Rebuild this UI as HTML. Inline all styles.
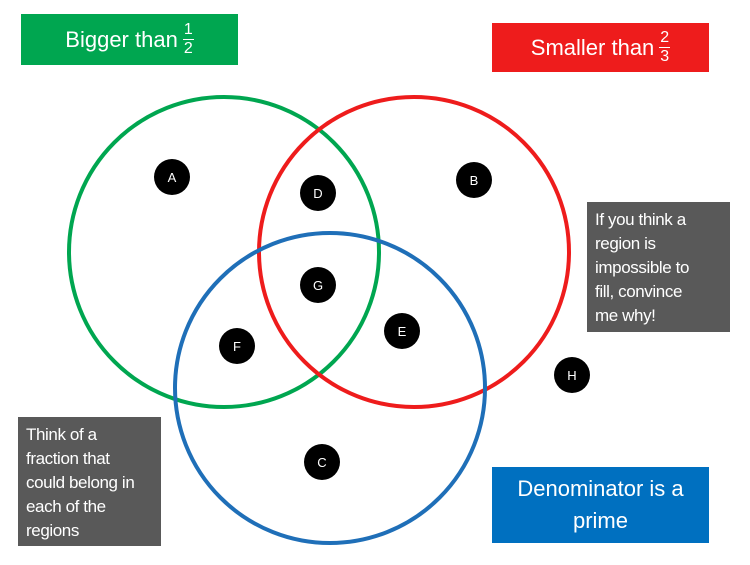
<!DOCTYPE html>
<html><head><meta charset="utf-8"><style>
body{margin:0;width:750px;height:565px;background:#fff;overflow:hidden;font-family:"Liberation Sans",sans-serif}
.box{position:absolute;color:#fff;box-sizing:border-box}
.frac{display:inline-flex;flex-direction:column;align-items:center;font-size:16px;line-height:18px;vertical-align:middle;margin-left:5px}
.frac span:first-child{border-bottom:1.5px solid #fff;padding:0 1px}
.g{background:#595959;font-size:17px;line-height:24px;padding:6px 8px;white-space:nowrap;letter-spacing:-0.4px}
</style></head><body>
<svg width="750" height="565" style="position:absolute;left:0;top:0">
<circle cx="224" cy="252" r="155" fill="none" stroke="#00a650" stroke-width="4"/>
<circle cx="414" cy="252" r="155" fill="none" stroke="#ee1c1c" stroke-width="4"/>
<circle cx="330" cy="388" r="155" fill="none" stroke="#1f6fb8" stroke-width="4"/>
<g fill="#000"><circle cx="172" cy="177" r="18"/><circle cx="474" cy="180" r="18"/><circle cx="318" cy="193" r="18"/><circle cx="318" cy="285" r="18"/><circle cx="402" cy="331" r="18"/><circle cx="237" cy="346" r="18"/><circle cx="572" cy="375" r="18"/><circle cx="322" cy="462" r="18"/></g>
<g fill="#fff" font-family="Liberation Sans" font-size="13" text-anchor="middle"><text x="172" y="182">A</text><text x="474" y="185">B</text><text x="318" y="198">D</text><text x="318" y="290">G</text><text x="402" y="336">E</text><text x="237" y="351">F</text><text x="572" y="380">H</text><text x="322" y="467">C</text></g>
</svg>
<div class="box" style="left:21px;top:14px;width:217px;height:51px;background:#00a650;font-size:22px;display:flex;align-items:center;justify-content:center">Bigger than<span class="frac"><span>1</span><span>2</span></span></div>
<div class="box" style="left:492px;top:23px;width:217px;height:49px;background:#ee1c1c;font-size:22px;display:flex;align-items:center;justify-content:center">Smaller than<span class="frac"><span>2</span><span>3</span></span></div>
<div class="box g" style="left:587px;top:202px;width:143px;height:130px">If you think a<br>region is<br>impossible to<br>fill, convince<br>me why!</div>
<div class="box g" style="left:18px;top:417px;width:143px;height:129px">Think of a<br>fraction that<br>could belong in<br>each of the<br>regions</div>
<div class="box" style="left:492px;top:467px;width:217px;height:76px;background:#0070c0;font-size:22px;line-height:32px;text-align:center;padding-top:6px">Denominator is a<br>prime</div>
</body></html>
